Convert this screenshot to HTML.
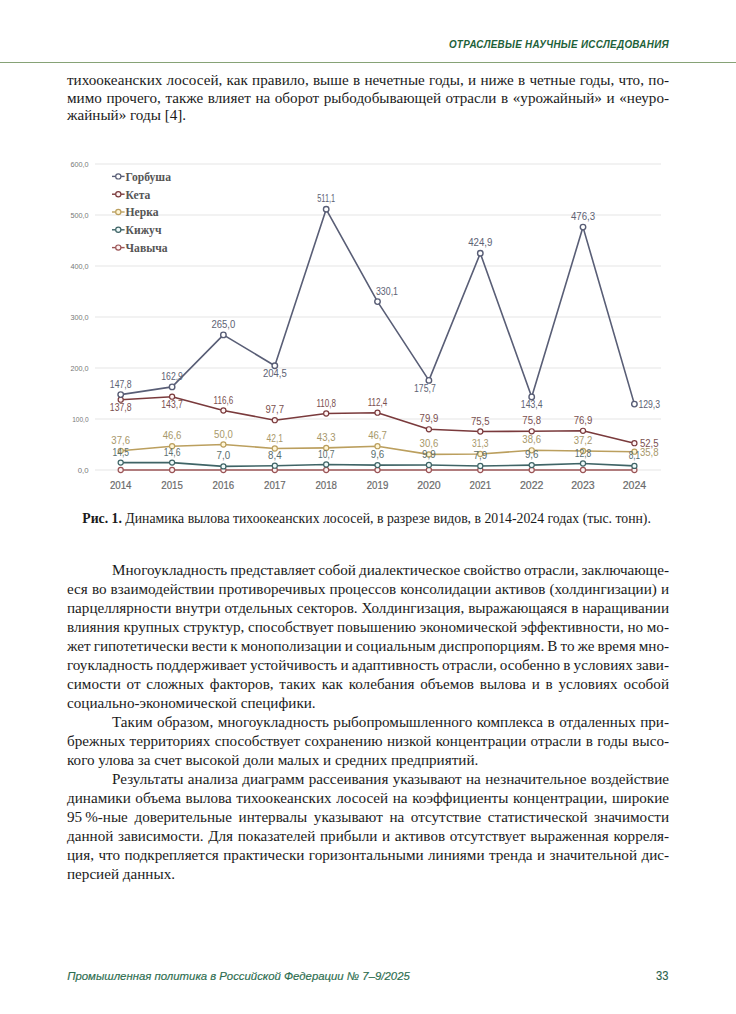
<!DOCTYPE html>
<html><head><meta charset="utf-8">
<style>
html,body{margin:0;padding:0;background:#fff;}
body{width:736px;height:1014px;position:relative;overflow:hidden;}
.ln{position:absolute;white-space:nowrap;font-family:"Liberation Serif",serif;font-size:15.15px;line-height:1;color:#1a1a1a;}
.hdr{position:absolute;white-space:nowrap;font-family:"Liberation Sans",sans-serif;font-weight:bold;font-style:italic;line-height:1;color:#1d6139;}
.cap{position:absolute;white-space:nowrap;font-family:"Liberation Serif",serif;font-size:13.76px;line-height:1;color:#1a1a1a;}
.foot{position:absolute;white-space:nowrap;font-family:"Liberation Sans",sans-serif;font-style:italic;line-height:1;color:#2d6d4f;-webkit-text-stroke:0.15px #2d6d4f;}
.pg{position:absolute;white-space:nowrap;font-family:"Liberation Sans",sans-serif;line-height:1;color:#2a5f4c;-webkit-text-stroke:0.1px #2a5f4c;transform:scaleX(0.93);transform-origin:right top;}
</style></head><body>
<div class="hdr" style="right:66.6px;top:38.87px;font-size:11.3px;letter-spacing:0.35px;transform:scaleX(0.87);transform-origin:right top;">ОТРАСЛЕВЫЕ НАУЧНЫЕ ИССЛЕДОВАНИЯ</div>
<div style="position:absolute;left:0;top:61.9px;width:736px;height:1.2px;background:#86a276;"></div>
<div class="ln" style="left:67px;top:72.10px;word-spacing:0.519px;">тихоокеанских лососей, как правило, выше в нечетные годы, и ниже в четные годы, что, по-</div>
<div class="ln" style="left:67px;top:90.20px;word-spacing:0.815px;">мимо прочего, также влияет на оборот рыбодобывающей отрасли в «урожайный» и «неуро-</div>
<div class="ln" style="left:67px;top:107.30px;">жайный» годы [4].</div>
<div class="ln" style="left:112px;top:562.20px;word-spacing:-0.703px;">Многоукладность представляет собой диалектическое свойство отрасли, заключающе-</div>
<div class="ln" style="left:67px;top:581.18px;word-spacing:0.311px;">еся во взаимодействии противоречивых процессов консолидации активов (холдингизации) и</div>
<div class="ln" style="left:67px;top:600.15px;word-spacing:0.083px;">парцеллярности внутри отдельных секторов. Холдингизация, выражающаяся в наращивании</div>
<div class="ln" style="left:67px;top:619.13px;word-spacing:-0.102px;">влияния крупных структур, способствует повышению экономической эффективности, но мо-</div>
<div class="ln" style="left:67px;top:638.10px;word-spacing:-0.695px;">жет гипотетически вести к монополизации и социальным диспропорциям. В то же время мно-</div>
<div class="ln" style="left:67px;top:657.08px;word-spacing:-0.606px;">гоукладность поддерживает устойчивость и адаптивность отрасли, особенно в условиях зави-</div>
<div class="ln" style="left:67px;top:676.05px;word-spacing:1.980px;">симости от сложных факторов, таких как колебания объемов вылова и в условиях особой</div>
<div class="ln" style="left:67px;top:695.03px;">социально-экономической специфики.</div>
<div class="ln" style="left:112px;top:714.00px;word-spacing:0.667px;">Таким образом, многоукладность рыбопромышленного комплекса в отдаленных при-</div>
<div class="ln" style="left:67px;top:732.98px;word-spacing:0.531px;">брежных территориях способствует сохранению низкой концентрации отрасли в годы высо-</div>
<div class="ln" style="left:67px;top:751.95px;">кого улова за счет высокой доли малых и средних предприятий.</div>
<div class="ln" style="left:112px;top:770.93px;word-spacing:0.565px;">Результаты анализа диаграмм рассеивания указывают на незначительное воздействие</div>
<div class="ln" style="left:67px;top:789.90px;word-spacing:0.812px;">динамики объема вылова тихоокеанских лососей на коэффициенты концентрации, широкие</div>
<div class="ln" style="left:67px;top:808.88px;word-spacing:2.824px;">95 %-ные доверительные интервалы указывают на отсутствие статистической значимости</div>
<div class="ln" style="left:67px;top:827.85px;word-spacing:0.903px;">данной зависимости. Для показателей прибыли и активов отсутствует выраженная корреля-</div>
<div class="ln" style="left:67px;top:846.83px;word-spacing:0.644px;">ция, что подкрепляется практически горизонтальными линиями тренда и значительной дис-</div>
<div class="ln" style="left:67px;top:865.80px;">персией данных.</div>
<svg width="736" height="1014" viewBox="0 0 736 1014" style="position:absolute;left:0;top:0">
<line x1="95" y1="470.0" x2="661" y2="470.0" stroke="#eeeeee" stroke-width="1.5"/>
<text x="88.6" y="472.7" text-anchor="end" font-family="Liberation Sans" font-size="7.6" fill="#777777" textLength="10.8" lengthAdjust="spacingAndGlyphs">0,0</text>
<line x1="95" y1="419.0" x2="661" y2="419.0" stroke="#eeeeee" stroke-width="1.5"/>
<text x="88.6" y="421.7" text-anchor="end" font-family="Liberation Sans" font-size="7.6" fill="#777777" textLength="16.4" lengthAdjust="spacingAndGlyphs">100,0</text>
<line x1="95" y1="368.0" x2="661" y2="368.0" stroke="#eeeeee" stroke-width="1.5"/>
<text x="88.6" y="370.7" text-anchor="end" font-family="Liberation Sans" font-size="7.6" fill="#777777" textLength="18.2" lengthAdjust="spacingAndGlyphs">200,0</text>
<line x1="95" y1="317.0" x2="661" y2="317.0" stroke="#eeeeee" stroke-width="1.5"/>
<text x="88.6" y="319.7" text-anchor="end" font-family="Liberation Sans" font-size="7.6" fill="#777777" textLength="18.2" lengthAdjust="spacingAndGlyphs">300,0</text>
<line x1="95" y1="266.0" x2="661" y2="266.0" stroke="#eeeeee" stroke-width="1.5"/>
<text x="88.6" y="268.7" text-anchor="end" font-family="Liberation Sans" font-size="7.6" fill="#777777" textLength="18.2" lengthAdjust="spacingAndGlyphs">400,0</text>
<line x1="95" y1="215.0" x2="661" y2="215.0" stroke="#eeeeee" stroke-width="1.5"/>
<text x="88.6" y="217.7" text-anchor="end" font-family="Liberation Sans" font-size="7.6" fill="#777777" textLength="18.2" lengthAdjust="spacingAndGlyphs">500,0</text>
<line x1="95" y1="164.0" x2="661" y2="164.0" stroke="#eeeeee" stroke-width="1.5"/>
<text x="88.6" y="166.7" text-anchor="end" font-family="Liberation Sans" font-size="7.6" fill="#777777" textLength="18.2" lengthAdjust="spacingAndGlyphs">600,0</text>
<text x="120.7" y="489.4" text-anchor="middle" font-family="Liberation Sans" font-size="11.6" fill="#6a6a6a" textLength="21.6" lengthAdjust="spacingAndGlyphs" stroke="#6a6a6a" stroke-width="0.2">2014</text>
<text x="172.1" y="489.4" text-anchor="middle" font-family="Liberation Sans" font-size="11.6" fill="#6a6a6a" textLength="21.6" lengthAdjust="spacingAndGlyphs" stroke="#6a6a6a" stroke-width="0.2">2015</text>
<text x="223.4" y="489.4" text-anchor="middle" font-family="Liberation Sans" font-size="11.6" fill="#6a6a6a" textLength="21.6" lengthAdjust="spacingAndGlyphs" stroke="#6a6a6a" stroke-width="0.2">2016</text>
<text x="274.8" y="489.4" text-anchor="middle" font-family="Liberation Sans" font-size="11.6" fill="#6a6a6a" textLength="21.6" lengthAdjust="spacingAndGlyphs" stroke="#6a6a6a" stroke-width="0.2">2017</text>
<text x="326.2" y="489.4" text-anchor="middle" font-family="Liberation Sans" font-size="11.6" fill="#6a6a6a" textLength="21.6" lengthAdjust="spacingAndGlyphs" stroke="#6a6a6a" stroke-width="0.2">2018</text>
<text x="377.5" y="489.4" text-anchor="middle" font-family="Liberation Sans" font-size="11.6" fill="#6a6a6a" textLength="21.6" lengthAdjust="spacingAndGlyphs" stroke="#6a6a6a" stroke-width="0.2">2019</text>
<text x="428.9" y="489.4" text-anchor="middle" font-family="Liberation Sans" font-size="11.6" fill="#6a6a6a" textLength="23.5" lengthAdjust="spacingAndGlyphs" stroke="#6a6a6a" stroke-width="0.2">2020</text>
<text x="480.3" y="489.4" text-anchor="middle" font-family="Liberation Sans" font-size="11.6" fill="#6a6a6a" textLength="21.6" lengthAdjust="spacingAndGlyphs" stroke="#6a6a6a" stroke-width="0.2">2021</text>
<text x="531.7" y="489.4" text-anchor="middle" font-family="Liberation Sans" font-size="11.6" fill="#6a6a6a" textLength="23.5" lengthAdjust="spacingAndGlyphs" stroke="#6a6a6a" stroke-width="0.2">2022</text>
<text x="583.0" y="489.4" text-anchor="middle" font-family="Liberation Sans" font-size="11.6" fill="#6a6a6a" textLength="23.5" lengthAdjust="spacingAndGlyphs" stroke="#6a6a6a" stroke-width="0.2">2023</text>
<text x="634.4" y="489.4" text-anchor="middle" font-family="Liberation Sans" font-size="11.6" fill="#6a6a6a" textLength="23.5" lengthAdjust="spacingAndGlyphs" stroke="#6a6a6a" stroke-width="0.2">2024</text>
<polyline points="120.7,470.0 172.1,470.0 223.4,470.0 274.8,470.0 326.2,470.0 377.5,470.0 428.9,470.0 480.3,470.0 531.7,470.0 583.0,470.0 634.4,470.0" fill="none" stroke="#9a5456" stroke-width="1.6" stroke-linejoin="round"/>
<circle cx="120.7" cy="470.0" r="2.55" fill="#fff2f2" stroke="#9a5456" stroke-width="1.2"/>
<circle cx="172.1" cy="470.0" r="2.55" fill="#fff2f2" stroke="#9a5456" stroke-width="1.2"/>
<circle cx="223.4" cy="470.0" r="2.55" fill="#fff2f2" stroke="#9a5456" stroke-width="1.2"/>
<circle cx="274.8" cy="470.0" r="2.55" fill="#fff2f2" stroke="#9a5456" stroke-width="1.2"/>
<circle cx="326.2" cy="470.0" r="2.55" fill="#fff2f2" stroke="#9a5456" stroke-width="1.2"/>
<circle cx="377.5" cy="470.0" r="2.55" fill="#fff2f2" stroke="#9a5456" stroke-width="1.2"/>
<circle cx="428.9" cy="470.0" r="2.55" fill="#fff2f2" stroke="#9a5456" stroke-width="1.2"/>
<circle cx="480.3" cy="470.0" r="2.55" fill="#fff2f2" stroke="#9a5456" stroke-width="1.2"/>
<circle cx="531.7" cy="470.0" r="2.55" fill="#fff2f2" stroke="#9a5456" stroke-width="1.2"/>
<circle cx="583.0" cy="470.0" r="2.55" fill="#fff2f2" stroke="#9a5456" stroke-width="1.2"/>
<circle cx="634.4" cy="470.0" r="2.55" fill="#fff2f2" stroke="#9a5456" stroke-width="1.2"/>
<polyline points="120.7,462.6 172.1,462.6 223.4,466.4 274.8,465.7 326.2,464.5 377.5,465.1 428.9,465.0 480.3,466.0 531.7,465.1 583.0,463.5 634.4,465.9" fill="none" stroke="#3f6466" stroke-width="1.6" stroke-linejoin="round"/>
<circle cx="120.7" cy="462.6" r="2.55" fill="#eefafa" stroke="#3f6466" stroke-width="1.2"/>
<circle cx="172.1" cy="462.6" r="2.55" fill="#eefafa" stroke="#3f6466" stroke-width="1.2"/>
<circle cx="223.4" cy="466.4" r="2.55" fill="#eefafa" stroke="#3f6466" stroke-width="1.2"/>
<circle cx="274.8" cy="465.7" r="2.55" fill="#eefafa" stroke="#3f6466" stroke-width="1.2"/>
<circle cx="326.2" cy="464.5" r="2.55" fill="#eefafa" stroke="#3f6466" stroke-width="1.2"/>
<circle cx="377.5" cy="465.1" r="2.55" fill="#eefafa" stroke="#3f6466" stroke-width="1.2"/>
<circle cx="428.9" cy="465.0" r="2.55" fill="#eefafa" stroke="#3f6466" stroke-width="1.2"/>
<circle cx="480.3" cy="466.0" r="2.55" fill="#eefafa" stroke="#3f6466" stroke-width="1.2"/>
<circle cx="531.7" cy="465.1" r="2.55" fill="#eefafa" stroke="#3f6466" stroke-width="1.2"/>
<circle cx="583.0" cy="463.5" r="2.55" fill="#eefafa" stroke="#3f6466" stroke-width="1.2"/>
<circle cx="634.4" cy="465.9" r="2.55" fill="#eefafa" stroke="#3f6466" stroke-width="1.2"/>
<polyline points="120.7,450.8 172.1,446.2 223.4,444.5 274.8,448.5 326.2,447.9 377.5,446.2 428.9,454.4 480.3,454.0 531.7,450.3 583.0,451.0 634.4,451.7" fill="none" stroke="#bb9f5e" stroke-width="1.6" stroke-linejoin="round"/>
<circle cx="120.7" cy="450.8" r="2.55" fill="#fff6d6" stroke="#bb9f5e" stroke-width="1.2"/>
<circle cx="172.1" cy="446.2" r="2.55" fill="#fff6d6" stroke="#bb9f5e" stroke-width="1.2"/>
<circle cx="223.4" cy="444.5" r="2.55" fill="#fff6d6" stroke="#bb9f5e" stroke-width="1.2"/>
<circle cx="274.8" cy="448.5" r="2.55" fill="#fff6d6" stroke="#bb9f5e" stroke-width="1.2"/>
<circle cx="326.2" cy="447.9" r="2.55" fill="#fff6d6" stroke="#bb9f5e" stroke-width="1.2"/>
<circle cx="377.5" cy="446.2" r="2.55" fill="#fff6d6" stroke="#bb9f5e" stroke-width="1.2"/>
<circle cx="428.9" cy="454.4" r="2.55" fill="#fff6d6" stroke="#bb9f5e" stroke-width="1.2"/>
<circle cx="480.3" cy="454.0" r="2.55" fill="#fff6d6" stroke="#bb9f5e" stroke-width="1.2"/>
<circle cx="531.7" cy="450.3" r="2.55" fill="#fff6d6" stroke="#bb9f5e" stroke-width="1.2"/>
<circle cx="583.0" cy="451.0" r="2.55" fill="#fff6d6" stroke="#bb9f5e" stroke-width="1.2"/>
<circle cx="634.4" cy="451.7" r="2.55" fill="#fff6d6" stroke="#bb9f5e" stroke-width="1.2"/>
<polyline points="120.7,399.7 172.1,396.7 223.4,410.5 274.8,420.2 326.2,413.5 377.5,412.7 428.9,429.3 480.3,431.5 531.7,431.3 583.0,430.8 634.4,443.2" fill="none" stroke="#7a3a3c" stroke-width="1.6" stroke-linejoin="round"/>
<circle cx="120.7" cy="399.7" r="2.55" fill="#fff4f4" stroke="#7a3a3c" stroke-width="1.2"/>
<circle cx="172.1" cy="396.7" r="2.55" fill="#fff4f4" stroke="#7a3a3c" stroke-width="1.2"/>
<circle cx="223.4" cy="410.5" r="2.55" fill="#fff4f4" stroke="#7a3a3c" stroke-width="1.2"/>
<circle cx="274.8" cy="420.2" r="2.55" fill="#fff4f4" stroke="#7a3a3c" stroke-width="1.2"/>
<circle cx="326.2" cy="413.5" r="2.55" fill="#fff4f4" stroke="#7a3a3c" stroke-width="1.2"/>
<circle cx="377.5" cy="412.7" r="2.55" fill="#fff4f4" stroke="#7a3a3c" stroke-width="1.2"/>
<circle cx="428.9" cy="429.3" r="2.55" fill="#fff4f4" stroke="#7a3a3c" stroke-width="1.2"/>
<circle cx="480.3" cy="431.5" r="2.55" fill="#fff4f4" stroke="#7a3a3c" stroke-width="1.2"/>
<circle cx="531.7" cy="431.3" r="2.55" fill="#fff4f4" stroke="#7a3a3c" stroke-width="1.2"/>
<circle cx="583.0" cy="430.8" r="2.55" fill="#fff4f4" stroke="#7a3a3c" stroke-width="1.2"/>
<circle cx="634.4" cy="443.2" r="2.55" fill="#fff4f4" stroke="#7a3a3c" stroke-width="1.2"/>
<polyline points="120.7,394.6 172.1,386.9 223.4,334.9 274.8,365.7 326.2,209.3 377.5,301.6 428.9,380.4 480.3,253.3 531.7,396.9 583.0,227.1 634.4,404.1" fill="none" stroke="#595e76" stroke-width="1.6" stroke-linejoin="round"/>
<circle cx="120.7" cy="394.6" r="2.75" fill="#ffffff" stroke="#595e76" stroke-width="1.4"/>
<circle cx="172.1" cy="386.9" r="2.75" fill="#ffffff" stroke="#595e76" stroke-width="1.4"/>
<circle cx="223.4" cy="334.9" r="2.75" fill="#ffffff" stroke="#595e76" stroke-width="1.4"/>
<circle cx="274.8" cy="365.7" r="2.75" fill="#ffffff" stroke="#595e76" stroke-width="1.4"/>
<circle cx="326.2" cy="209.3" r="2.75" fill="#ffffff" stroke="#595e76" stroke-width="1.4"/>
<circle cx="377.5" cy="301.6" r="2.75" fill="#ffffff" stroke="#595e76" stroke-width="1.4"/>
<circle cx="428.9" cy="380.4" r="2.75" fill="#ffffff" stroke="#595e76" stroke-width="1.4"/>
<circle cx="480.3" cy="253.3" r="2.75" fill="#ffffff" stroke="#595e76" stroke-width="1.4"/>
<circle cx="531.7" cy="396.9" r="2.75" fill="#ffffff" stroke="#595e76" stroke-width="1.4"/>
<circle cx="583.0" cy="227.1" r="2.75" fill="#ffffff" stroke="#595e76" stroke-width="1.4"/>
<circle cx="634.4" cy="404.1" r="2.75" fill="#ffffff" stroke="#595e76" stroke-width="1.4"/>
<text x="120.7" y="387.6" text-anchor="middle" font-family="Liberation Sans" font-size="10.6" fill="#5d6274" textLength="21.7" lengthAdjust="spacingAndGlyphs">147,8</text>
<text x="172.1" y="379.9" text-anchor="middle" font-family="Liberation Sans" font-size="10.6" fill="#5d6274" textLength="21.7" lengthAdjust="spacingAndGlyphs">162,9</text>
<text x="223.4" y="327.9" text-anchor="middle" font-family="Liberation Sans" font-size="10.6" fill="#5d6274" textLength="23.8" lengthAdjust="spacingAndGlyphs">265,0</text>
<text x="274.8" y="377.1" text-anchor="middle" font-family="Liberation Sans" font-size="10.6" fill="#5d6274" textLength="23.8" lengthAdjust="spacingAndGlyphs">204,5</text>
<text x="326.2" y="202.3" text-anchor="middle" font-family="Liberation Sans" font-size="10.2" fill="#5d6274" textLength="17.9" lengthAdjust="spacingAndGlyphs">511,1</text>
<text x="387.0" y="294.6" text-anchor="middle" font-family="Liberation Sans" font-size="10.2" fill="#5d6274" textLength="22.1" lengthAdjust="spacingAndGlyphs">330,1</text>
<text x="424.9" y="392.4" text-anchor="middle" font-family="Liberation Sans" font-size="10.6" fill="#5d6274" textLength="21.7" lengthAdjust="spacingAndGlyphs">175,7</text>
<text x="480.3" y="246.3" text-anchor="middle" font-family="Liberation Sans" font-size="10.2" fill="#5d6274" textLength="24.2" lengthAdjust="spacingAndGlyphs">424,9</text>
<text x="531.7" y="408.3" text-anchor="middle" font-family="Liberation Sans" font-size="10.6" fill="#5d6274" textLength="21.7" lengthAdjust="spacingAndGlyphs">143,4</text>
<text x="583.0" y="220.1" text-anchor="middle" font-family="Liberation Sans" font-size="10.2" fill="#5d6274" textLength="24.2" lengthAdjust="spacingAndGlyphs">476,3</text>
<text x="638.4" y="407.9" text-anchor="start" font-family="Liberation Sans" font-size="10.6" fill="#5d6274" textLength="21.7" lengthAdjust="spacingAndGlyphs">129,3</text>
<text x="120.7" y="411.1" text-anchor="middle" font-family="Liberation Sans" font-size="10.6" fill="#7a5050" textLength="21.7" lengthAdjust="spacingAndGlyphs">137,8</text>
<text x="172.1" y="408.1" text-anchor="middle" font-family="Liberation Sans" font-size="10.6" fill="#7a5050" textLength="21.7" lengthAdjust="spacingAndGlyphs">143,7</text>
<text x="223.4" y="403.5" text-anchor="middle" font-family="Liberation Sans" font-size="10.6" fill="#7a5050" textLength="19.6" lengthAdjust="spacingAndGlyphs">116,6</text>
<text x="274.8" y="413.2" text-anchor="middle" font-family="Liberation Sans" font-size="10.6" fill="#7a5050" textLength="18.7" lengthAdjust="spacingAndGlyphs">97,7</text>
<text x="326.2" y="406.5" text-anchor="middle" font-family="Liberation Sans" font-size="10.6" fill="#7a5050" textLength="19.6" lengthAdjust="spacingAndGlyphs">110,8</text>
<text x="377.5" y="405.7" text-anchor="middle" font-family="Liberation Sans" font-size="10.6" fill="#7a5050" textLength="19.6" lengthAdjust="spacingAndGlyphs">112,4</text>
<text x="428.9" y="422.3" text-anchor="middle" font-family="Liberation Sans" font-size="10.6" fill="#7a5050" textLength="18.7" lengthAdjust="spacingAndGlyphs">79,9</text>
<text x="480.3" y="424.5" text-anchor="middle" font-family="Liberation Sans" font-size="10.6" fill="#7a5050" textLength="18.7" lengthAdjust="spacingAndGlyphs">75,5</text>
<text x="531.7" y="424.3" text-anchor="middle" font-family="Liberation Sans" font-size="10.6" fill="#7a5050" textLength="18.7" lengthAdjust="spacingAndGlyphs">75,8</text>
<text x="583.0" y="423.8" text-anchor="middle" font-family="Liberation Sans" font-size="10.6" fill="#7a5050" textLength="18.7" lengthAdjust="spacingAndGlyphs">76,9</text>
<text x="639.9" y="447.0" text-anchor="start" font-family="Liberation Sans" font-size="10.6" fill="#7a5050" textLength="18.7" lengthAdjust="spacingAndGlyphs">52,5</text>
<text x="120.7" y="443.8" text-anchor="middle" font-family="Liberation Sans" font-size="10.6" fill="#a8986a" textLength="18.7" lengthAdjust="spacingAndGlyphs">37,6</text>
<text x="172.1" y="439.2" text-anchor="middle" font-family="Liberation Sans" font-size="10.6" fill="#a8986a" textLength="18.7" lengthAdjust="spacingAndGlyphs">46,6</text>
<text x="223.4" y="437.5" text-anchor="middle" font-family="Liberation Sans" font-size="10.6" fill="#a8986a" textLength="18.7" lengthAdjust="spacingAndGlyphs">50,0</text>
<text x="274.8" y="441.5" text-anchor="middle" font-family="Liberation Sans" font-size="10.6" fill="#a8986a" textLength="16.6" lengthAdjust="spacingAndGlyphs">42,1</text>
<text x="326.2" y="440.9" text-anchor="middle" font-family="Liberation Sans" font-size="10.6" fill="#a8986a" textLength="18.7" lengthAdjust="spacingAndGlyphs">43,3</text>
<text x="377.5" y="439.2" text-anchor="middle" font-family="Liberation Sans" font-size="10.6" fill="#a8986a" textLength="18.7" lengthAdjust="spacingAndGlyphs">46,7</text>
<text x="428.9" y="447.4" text-anchor="middle" font-family="Liberation Sans" font-size="10.6" fill="#a8986a" textLength="18.7" lengthAdjust="spacingAndGlyphs">30,6</text>
<text x="480.3" y="447.0" text-anchor="middle" font-family="Liberation Sans" font-size="10.6" fill="#a8986a" textLength="16.6" lengthAdjust="spacingAndGlyphs">31,3</text>
<text x="531.7" y="443.3" text-anchor="middle" font-family="Liberation Sans" font-size="10.6" fill="#a8986a" textLength="18.7" lengthAdjust="spacingAndGlyphs">38,6</text>
<text x="583.0" y="444.0" text-anchor="middle" font-family="Liberation Sans" font-size="10.6" fill="#a8986a" textLength="18.7" lengthAdjust="spacingAndGlyphs">37,2</text>
<text x="639.9" y="455.5" text-anchor="start" font-family="Liberation Sans" font-size="10.6" fill="#a8986a" textLength="18.7" lengthAdjust="spacingAndGlyphs">35,8</text>
<text x="120.7" y="455.6" text-anchor="middle" font-family="Liberation Sans" font-size="10.6" fill="#5a6e6e" textLength="16.6" lengthAdjust="spacingAndGlyphs">14,5</text>
<text x="172.1" y="455.6" text-anchor="middle" font-family="Liberation Sans" font-size="10.6" fill="#5a6e6e" textLength="16.6" lengthAdjust="spacingAndGlyphs">14,6</text>
<text x="223.4" y="459.4" text-anchor="middle" font-family="Liberation Sans" font-size="10.6" fill="#5a6e6e" textLength="13.6" lengthAdjust="spacingAndGlyphs">7,0</text>
<text x="274.8" y="458.7" text-anchor="middle" font-family="Liberation Sans" font-size="10.6" fill="#5a6e6e" textLength="13.6" lengthAdjust="spacingAndGlyphs">8,4</text>
<text x="326.2" y="457.5" text-anchor="middle" font-family="Liberation Sans" font-size="10.6" fill="#5a6e6e" textLength="16.6" lengthAdjust="spacingAndGlyphs">10,7</text>
<text x="377.5" y="458.1" text-anchor="middle" font-family="Liberation Sans" font-size="10.6" fill="#5a6e6e" textLength="13.6" lengthAdjust="spacingAndGlyphs">9,6</text>
<text x="428.9" y="458.0" text-anchor="middle" font-family="Liberation Sans" font-size="10.6" fill="#5a6e6e" textLength="13.6" lengthAdjust="spacingAndGlyphs">9,9</text>
<text x="480.3" y="459.0" text-anchor="middle" font-family="Liberation Sans" font-size="10.6" fill="#5a6e6e" textLength="13.6" lengthAdjust="spacingAndGlyphs">7,9</text>
<text x="531.7" y="458.1" text-anchor="middle" font-family="Liberation Sans" font-size="10.6" fill="#5a6e6e" textLength="13.6" lengthAdjust="spacingAndGlyphs">9,6</text>
<text x="583.0" y="456.5" text-anchor="middle" font-family="Liberation Sans" font-size="10.6" fill="#5a6e6e" textLength="16.6" lengthAdjust="spacingAndGlyphs">12,8</text>
<text x="634.4" y="458.9" text-anchor="middle" font-family="Liberation Sans" font-size="10.6" fill="#5a6e6e" textLength="11.5" lengthAdjust="spacingAndGlyphs">8,1</text>
<line x1="112" y1="176.4" x2="124.6" y2="176.4" stroke="#595e76" stroke-width="1.4"/>
<circle cx="118.3" cy="176.4" r="2.6" fill="#ffffff" stroke="#595e76" stroke-width="1.2"/>
<text x="125.6" y="180.7" font-family="Liberation Serif" font-weight="bold" font-size="11.6" fill="#555555">Горбуша</text>
<line x1="112" y1="194.2" x2="124.6" y2="194.2" stroke="#7a3a3c" stroke-width="1.4"/>
<circle cx="118.3" cy="194.2" r="2.6" fill="#fff4f4" stroke="#7a3a3c" stroke-width="1.2"/>
<text x="125.6" y="198.5" font-family="Liberation Serif" font-weight="bold" font-size="11.6" fill="#555555">Кета</text>
<line x1="112" y1="212.0" x2="124.6" y2="212.0" stroke="#bb9f5e" stroke-width="1.4"/>
<circle cx="118.3" cy="212.0" r="2.6" fill="#fff6d6" stroke="#bb9f5e" stroke-width="1.2"/>
<text x="125.6" y="216.3" font-family="Liberation Serif" font-weight="bold" font-size="11.6" fill="#555555">Нерка</text>
<line x1="112" y1="229.8" x2="124.6" y2="229.8" stroke="#3f6466" stroke-width="1.4"/>
<circle cx="118.3" cy="229.8" r="2.6" fill="#eefafa" stroke="#3f6466" stroke-width="1.2"/>
<text x="125.6" y="234.1" font-family="Liberation Serif" font-weight="bold" font-size="11.6" fill="#555555">Кижуч</text>
<line x1="112" y1="247.6" x2="124.6" y2="247.6" stroke="#9a5456" stroke-width="1.4"/>
<circle cx="118.3" cy="247.6" r="2.6" fill="#fff2f2" stroke="#9a5456" stroke-width="1.2"/>
<text x="125.6" y="251.9" font-family="Liberation Serif" font-weight="bold" font-size="11.6" fill="#555555">Чавыча</text>
</svg>
<div class="cap" style="left:82.3px;top:512.04px;"><b>Рис. 1.</b> Динамика вылова тихоокеанских лососей, в разрезе видов, в 2014-2024 годах (тыс. тонн).</div>
<div class="foot" style="left:67.2px;top:971.10px;font-size:11.38px;">Промышленная политика в Российской Федерации № 7–9/2025</div>
<div class="pg" style="right:67.29999999999995px;top:970.44px;font-size:12px;">33</div>
</body></html>
